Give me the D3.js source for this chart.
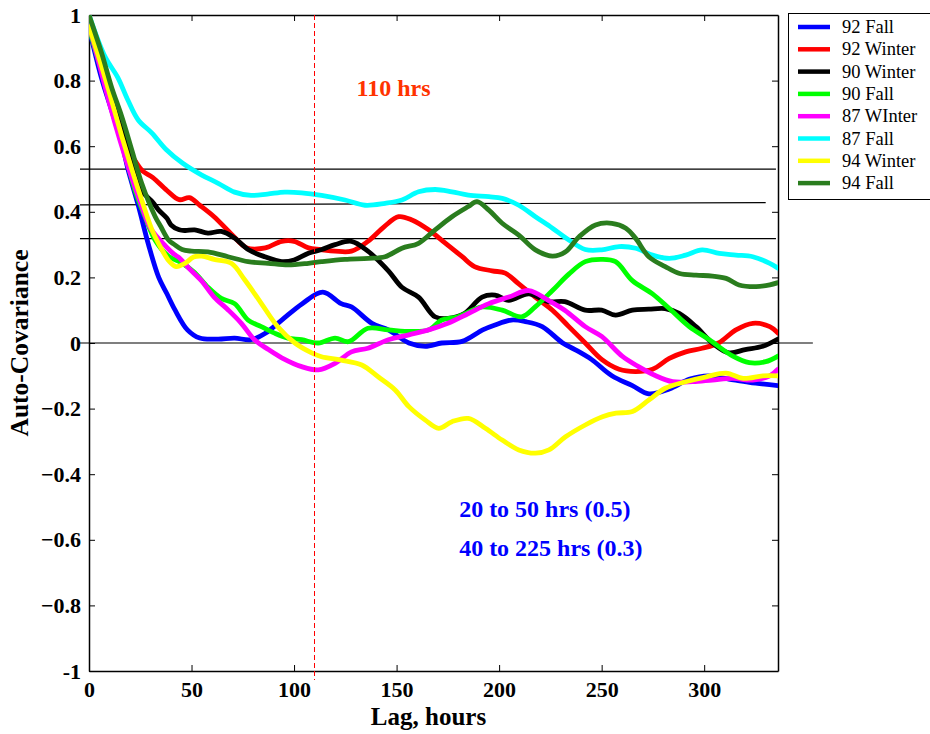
<!DOCTYPE html>
<html><head><meta charset="utf-8">
<script src="https://cdn.jsdelivr.net/npm/d3@7"></script>
<style>
html,body{margin:0;padding:0;background:#fff;}
svg{display:block;}
text{font-family:"Liberation Serif","Times New Roman",serif;}
</style></head>
<body>
<svg id="chart" width="930" height="734"></svg>
<script>
// ---- data (lag in hours, auto-covariance) ----
const seriesNames = ["92 Fall","92 Winter","90 Winter","90 Fall","87 WInter","87 Fall","94 Winter","94 Fall"];
const seriesColors = ["#0000ff","#ff0000","#000000","#00ff00","#ff00ff","#00ffff","#ffff00","#2a7d1e"];

const fall92 = [[0,0.96],[6,0.81],[11,0.71],[16,0.61],[19,0.53],[24,0.42],[29,0.30],[34,0.20],[38,0.15],[42,0.10],[48,0.04],[54,0.015],[63,0.012],[71,0.015],[79,0.01],[86,0.03],[94,0.07],[104,0.12],[114,0.155],[123,0.12],[128,0.11],[138,0.06],[146,0.04],[156,0.0],[164,-0.01],[172,0],[182,0.005],[192,0.04],[198,0.055],[206,0.07],[213,0.065],[221,0.05],[231,0.0],[237,-0.02],[245,-0.05],[255,-0.10],[265,-0.13],[273,-0.155],[283,-0.14],[293,-0.11],[302,-0.10],[312,-0.11],[322,-0.12],[336,-0.13]];
const winter92 = [[0,0.98],[5,0.87],[10,0.77],[15,0.67],[20,0.58],[22.5,0.555],[26,0.525],[31,0.505],[38,0.465],[44,0.437],[49,0.443],[54,0.42],[61,0.385],[69,0.335],[77,0.29],[86,0.29],[94,0.31],[100,0.31],[107,0.29],[113,0.285],[120,0.28],[128,0.28],[136,0.31],[144,0.355],[151,0.385],[157.5,0.375],[165.6,0.345],[173.6,0.305],[182,0.263],[188,0.233],[196.6,0.22],[203,0.213],[209.6,0.18],[217.6,0.14],[226,0.10],[234,0.05],[242,0.0],[250,-0.05],[258.5,-0.08],[266.5,-0.087],[274.8,-0.08],[283,-0.047],[291,-0.027],[299,-0.016],[307,0.0],[315.5,0.04],[323.7,0.06],[332,0.05],[336,0.03]];
const winter90 = [[0,0.99],[5,0.88],[10,0.78],[15,0.68],[20,0.57],[25.5,0.466],[31,0.43],[34,0.405],[38,0.38],[40,0.36],[44,0.345],[47,0.343],[51.5,0.345],[58,0.335],[64.5,0.34],[71,0.32],[77.6,0.285],[85.7,0.263],[94,0.248],[100,0.253],[107,0.274],[113.5,0.285],[120,0.30],[128,0.31],[136,0.28],[146,0.22],[152.6,0.17],[160.7,0.14],[168.7,0.08],[175,0.075],[183,0.09],[191.7,0.14],[198,0.146],[204.7,0.13],[214.5,0.15],[224,0.126],[232,0.126],[242,0.10],[250,0.10],[256.8,0.085],[265,0.10],[273,0.103],[281,0.105],[287.8,0.09],[296,0.05],[304,0.0],[312,-0.03],[320,-0.02],[328.6,-0.01],[336,0.012]];
const fall90 = [[0,0.96],[6,0.83],[12.7,0.69],[17.6,0.578],[22.4,0.466],[27.3,0.385],[32.2,0.314],[38.7,0.265],[45,0.245],[51.5,0.215],[58,0.17],[64.5,0.136],[71,0.12],[77.6,0.07],[84,0.05],[90.5,0.03],[97,0.015],[103.7,0.01],[111.8,0.0],[120,0.015],[126.5,0.004],[136,0.045],[146,0.04],[157.5,0.035],[165.6,0.04],[172,0.07],[180,0.08],[191.7,0.11],[201.5,0.10],[211,0.08],[217.6,0.11],[226,0.16],[234,0.21],[242,0.248],[250,0.255],[256.8,0.248],[265,0.19],[274.8,0.15],[283,0.105],[292.7,0.05],[302.5,0.01],[314,-0.04],[322,-0.06],[330,-0.057],[336,-0.04]];
const winter87 = [[0,0.97],[5,0.85],[10,0.73],[15,0.62],[20,0.52],[25,0.43],[30,0.35],[37.6,0.294],[41.6,0.27],[44,0.26],[48.4,0.23],[54.8,0.19],[61,0.14],[68,0.10],[74.3,0.06],[80.7,0.01],[87.5,-0.02],[94,-0.045],[103.7,-0.072],[111.8,-0.082],[120,-0.062],[128,-0.027],[136,-0.016],[146,0.01],[156,0.025],[165.6,0.04],[175,0.06],[185,0.09],[195,0.12],[204.7,0.14],[214.5,0.16],[224,0.13],[232,0.10],[242,0.05],[250,0.02],[260,-0.04],[268,-0.072],[276.4,-0.10],[284.6,-0.118],[294.4,-0.118],[304,-0.113],[314,-0.108],[323.7,-0.113],[332,-0.10],[336,-0.08]];
const fall87 = [[0,1.0],[7.8,0.873],[14,0.81],[19,0.74],[24,0.68],[30.7,0.64],[37.6,0.59],[45.7,0.548],[55,0.512],[63,0.487],[71,0.46],[79,0.45],[87,0.454],[95.5,0.46],[103.7,0.458],[113.4,0.45],[124.8,0.436],[134.6,0.42],[144.4,0.426],[152.6,0.436],[160.7,0.461],[168.8,0.468],[177,0.461],[185,0.451],[195,0.446],[201.5,0.441],[209.6,0.42],[217.7,0.385],[226,0.35],[234,0.314],[242,0.285],[250,0.284],[258.5,0.294],[266.6,0.289],[274.8,0.268],[283,0.258],[291,0.268],[299,0.284],[307.4,0.273],[315.5,0.268],[323.7,0.263],[332,0.243],[336,0.228]];
const winter94 = [[0,0.965],[6.2,0.842],[11,0.74],[16,0.63],[21,0.527],[25.7,0.436],[30.7,0.345],[35.6,0.284],[39,0.25],[42.5,0.233],[46.8,0.243],[51,0.262],[55,0.265],[61,0.255],[69.4,0.243],[76,0.192],[84,0.121],[92,0.05],[100.4,0.0],[108.6,-0.03],[113.4,-0.042],[123,-0.052],[133,-0.067],[141,-0.103],[149.3,-0.143],[156,-0.194],[164,-0.235],[170.5,-0.26],[177,-0.24],[185,-0.23],[193.3,-0.26],[201.5,-0.296],[209.6,-0.326],[217.7,-0.336],[224.3,-0.326],[232.4,-0.286],[242,-0.25],[250.4,-0.225],[257,-0.214],[265,-0.209],[273,-0.174],[281,-0.138],[291,-0.118],[301,-0.103],[310.7,-0.092],[319,-0.108],[328.6,-0.10],[336,-0.10]];
const fall94 = [[0,1.0],[6.2,0.883],[11,0.78],[16,0.69],[20.9,0.588],[25.7,0.487],[32.3,0.385],[35,0.355],[38.8,0.314],[41.7,0.30],[45.4,0.285],[50,0.28],[58,0.278],[67.8,0.263],[77.6,0.248],[87.4,0.243],[97,0.238],[107,0.243],[113.4,0.248],[124.8,0.255],[136.3,0.258],[144.4,0.263],[152.6,0.289],[160.7,0.304],[168.8,0.345],[177,0.385],[185,0.416],[189.2,0.431],[195,0.405],[201.5,0.365],[209.6,0.329],[217.7,0.284],[226,0.265],[232.4,0.278],[239,0.324],[247,0.36],[255,0.365],[261.8,0.35],[266.6,0.319],[273,0.263],[281,0.233],[288,0.212],[296,0.207],[304,0.204],[310.7,0.197],[317,0.177],[325.3,0.172],[332,0.177],[336,0.184]];
const seriesData = [fall92, winter92, winter90, fall90, winter87, fall87, winter94, fall94];

const xTicks = [0,50,100,150,200,250,300];
const yTicks = [-1,-0.8,-0.6,-0.4,-0.2,0,0.2,0.4,0.6,0.8,1];
// reference lines [x0,y0,x1,y1] in data units
const refLines = [[-4.4,0.530,335,0.530],[-4.4,0.421,330,0.428],[-4.4,0.318,335,0.318],[-4.4,0,353,0]];
const markerLag = 109.5;
const annotations = [
  {text:"110 hrs", x:130.5, y:0.753, color:"#ff3300"},
  {text:"20 to 50 hrs (0.5)", x:180.5, y:-0.53, color:"#0000ff"},
  {text:"40 to 225 hrs (0.3)", x:180.5, y:-0.65, color:"#0000ff"}
];

// ---- layout ----
const L = 89, R = 778, T = 15, B = 671;
const SERIF = "'Liberation Serif','Times New Roman',serif";
const svg = d3.select("#chart");
const x = d3.scaleLinear().domain([0,336]).range([L,R]);
const y = d3.scaleLinear().domain([-1,1]).range([B,T]);

svg.append("defs").append("clipPath").attr("id","clip")
  .append("rect").attr("x",L).attr("y",T).attr("width",R-L).attr("height",B-T);

// axes (inner ticks, mirrored)
const fmt = d => d===0 ? "0" : (Math.abs(d)===1 ? String(d) : d3.format(".1f")(d));
const gB = svg.append("g").attr("transform",`translate(0,${B})`)
  .call(d3.axisBottom(x).tickValues(xTicks).tickSizeInner(-6).tickSizeOuter(0).tickPadding(12));
const gT = svg.append("g").attr("transform",`translate(0,${T})`)
  .call(d3.axisTop(x).tickValues(xTicks).tickSizeInner(-6).tickSizeOuter(0).tickFormat(""));
const gL = svg.append("g").attr("transform",`translate(${L},0)`)
  .call(d3.axisLeft(y).tickValues(yTicks).tickSizeInner(-6).tickSizeOuter(0).tickPadding(12).tickFormat(fmt));
const gR = svg.append("g").attr("transform",`translate(${R},0)`)
  .call(d3.axisRight(y).tickValues(yTicks).tickSizeInner(-6).tickSizeOuter(0).tickFormat(""));
[gB,gT,gL,gR].forEach(g=>{
  g.attr("font-family",SERIF);
  g.select(".domain").attr("stroke","#000").attr("stroke-width",1.5);
  g.selectAll(".tick line").attr("stroke","#000").attr("stroke-width",1);
  g.selectAll("text").attr("font-family",SERIF).attr("font-weight","bold").attr("font-size",22).attr("fill","#000");
});
gL.selectAll(".tick text").attr("x",-8);
gB.selectAll(".tick text").attr("dy","0.71em").attr("y",10);

// reference lines
svg.append("g").selectAll("line").data(refLines).join("line")
  .attr("x1",d=>x(d[0])).attr("y1",d=>y(d[1])).attr("x2",d=>x(d[2])).attr("y2",d=>y(d[3]))
  .attr("stroke","#000").attr("stroke-width",1.2);

// series
const line = d3.line().x(d=>x(d[0])).y(d=>y(d[1])).curve(d3.curveCatmullRom.alpha(0.5));
svg.append("g").attr("clip-path","url(#clip)").selectAll("path").data(seriesData).join("path")
  .attr("d",line).attr("fill","none")
  .attr("stroke",(d,i)=>seriesColors[i]).attr("stroke-width",4.8)
  .attr("stroke-linejoin","round").attr("stroke-linecap","round");

// marker line
const mx = Math.round(x(markerLag)) + 0.5;
svg.append("line").attr("x1",mx).attr("x2",mx).attr("y1",T).attr("y2",B+9)
  .attr("stroke","#ff0000").attr("stroke-width",1).attr("stroke-dasharray","5,3")
  .attr("shape-rendering","crispEdges");

// annotations
svg.append("g").selectAll("text").data(annotations).join("text")
  .attr("x",d=>x(d.x)).attr("y",d=>y(d.y)).attr("font-family",SERIF)
  .attr("font-weight","bold").attr("font-size",24).attr("fill",d=>d.color)
  .text(d=>d.text);

// axis titles
svg.append("text").attr("x",(L+R)/2-5).attr("y",725).attr("text-anchor","middle").attr("font-family",SERIF)
  .attr("font-weight","bold").attr("font-size",25).text("Lag, hours");
svg.append("text").attr("transform",`translate(28,${(T+B)/2}) rotate(-90)`).attr("text-anchor","middle").attr("font-family",SERIF)
  .attr("font-weight","bold").attr("font-size",25.5).text("Auto-Covariance");

// legend
const lg = svg.append("g");
lg.append("rect").attr("x",788.5).attr("y",13.5).attr("width",160).attr("height",186)
  .attr("fill","#fff").attr("stroke","#000").attr("stroke-width",1);
const items = lg.selectAll("g.item").data(seriesNames).join("g").attr("class","item")
  .attr("transform",(d,i)=>`translate(0,${27+i*22.3})`);
items.append("line").attr("x1",798).attr("x2",830).attr("y1",0).attr("y2",0)
  .attr("stroke",(d,i)=>seriesColors[i]).attr("stroke-width",4.5);
items.append("text").attr("x",842).attr("y",6).attr("font-family",SERIF).attr("font-size",18.5).attr("fill","#000").text(d=>d);
</script>
</body></html>
